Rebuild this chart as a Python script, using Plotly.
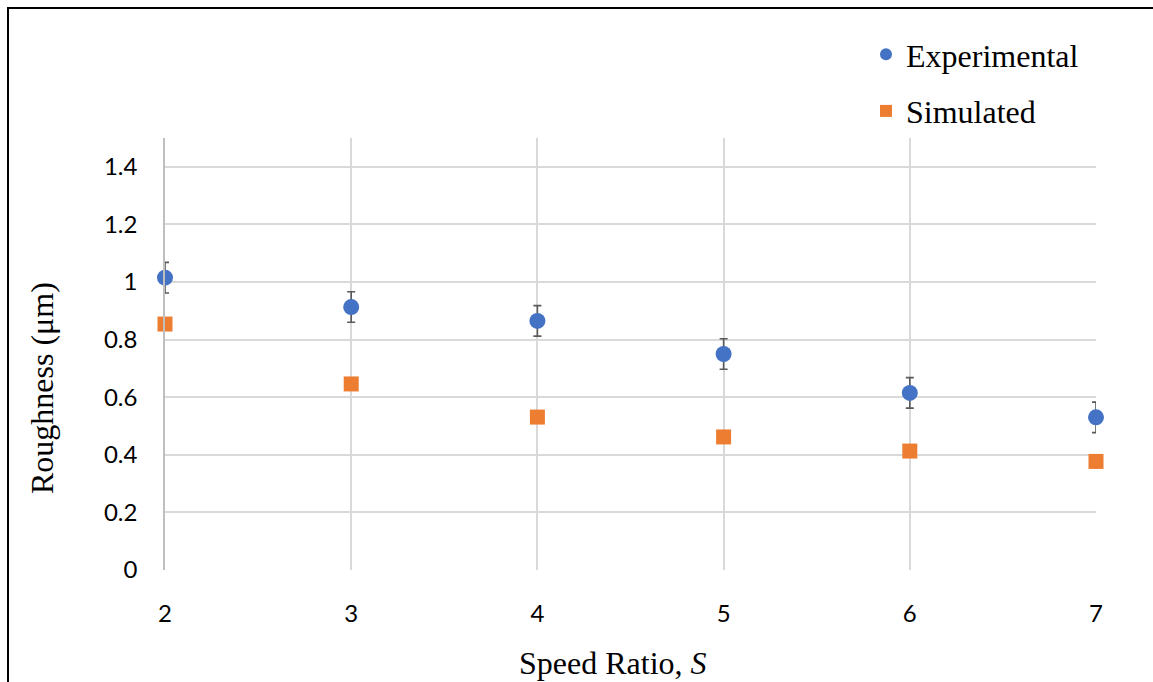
import plotly.graph_objects as go

speed_ratio = [2, 3, 4, 5, 6, 7]
experimental = [1.015, 0.913, 0.865, 0.750, 0.615, 0.530]
experimental_err = [0.053, 0.053, 0.053, 0.053, 0.053, 0.053]
simulated = [0.854, 0.646, 0.531, 0.462, 0.413, 0.377]
y_ticks = [0, 0.2, 0.4, 0.6, 0.8, 1.0, 1.2, 1.4]
y_tick_text = ["0", "0.2", "0.4", "0.6", "0.8", "1", "1.2", "1.4"]

W, H = 1153, 682
L, R, T, B = 165, 57, 138, 112
pw, ph = W - L - R, H - T - B

fig = go.Figure()
fig.add_trace(go.Scatter(
    x=speed_ratio, y=experimental, mode="markers", name="Experimental",
    legendgroup="a", cliponaxis=False,
    marker=dict(symbol="circle", size=16, color="#4472C4"),
    error_y=dict(type="data", array=experimental_err, visible=True,
                 color="#595959", thickness=1.6, width=4),
))
fig.add_trace(go.Scatter(
    x=speed_ratio, y=simulated, mode="markers", name="Simulated",
    legendgroup="b", cliponaxis=False,
    marker=dict(symbol="square", size=15, color="#ED7D31"),
))

def px_x(p):
    return (p - L) / pw

def px_y(p):
    return (H - B - p) / ph

title_font = dict(family="Liberation Serif", size=32, color="black")

fig.update_layout(
    width=W, height=H,
    margin=dict(l=L, r=R, t=T, b=B, pad=0, autoexpand=False),
    paper_bgcolor="white", plot_bgcolor="white",
    showlegend=True,
    legend=dict(
        x=px_x(866), y=px_y(27), xanchor="left", yanchor="top",
        font=title_font,
        tracegroupgap=12, itemsizing="constant", itemwidth=30,
        bgcolor="rgba(0,0,0,0)",
    ),
    xaxis=dict(
        range=[2, 7], tickvals=speed_ratio, ticktext=[str(v) for v in speed_ratio],
        showgrid=True, gridcolor="#D9D9D9", gridwidth=1.5,
        zeroline=False, showline=False, ticks="", automargin=False,
        tickfont=dict(family="Lato", size=24, color="black"),
        ticklabelstandoff=27,
    ),
    yaxis=dict(
        range=[0, 1.5], tickvals=y_ticks, ticktext=y_tick_text,
        showgrid=True, gridcolor="#D9D9D9", gridwidth=1.5,
        zeroline=False, showline=True, linecolor="#BFBFBF", linewidth=1.5,
        ticks="", automargin=False,
        tickfont=dict(family="Lato", size=24, color="black"),
        ticklabelstandoff=21,
    ),
    annotations=[
        dict(text="Speed Ratio, <i>S</i>", xref="paper", yref="paper",
             x=px_x(613), y=px_y(663), xanchor="center", yanchor="middle",
             showarrow=False, font=title_font),
        dict(text="Roughness (μm)", xref="paper", yref="paper",
             x=px_x(42), y=px_y(388), xanchor="center", yanchor="middle",
             textangle=-90, showarrow=False, font=title_font),
    ],
    shapes=[
        dict(type="line", xref="paper", yref="paper",
             x0=px_x(8), x1=px_x(8), y0=px_y(7), y1=px_y(H + 5),
             line=dict(color="black", width=2)),
        dict(type="line", xref="paper", yref="paper",
             x0=px_x(7), x1=px_x(W + 5), y0=px_y(8), y1=px_y(8),
             line=dict(color="black", width=2)),
    ],
)

fig.write_html("out.html", config={"displayModeBar": False},
               post_script="document.body.style.margin='0';")
